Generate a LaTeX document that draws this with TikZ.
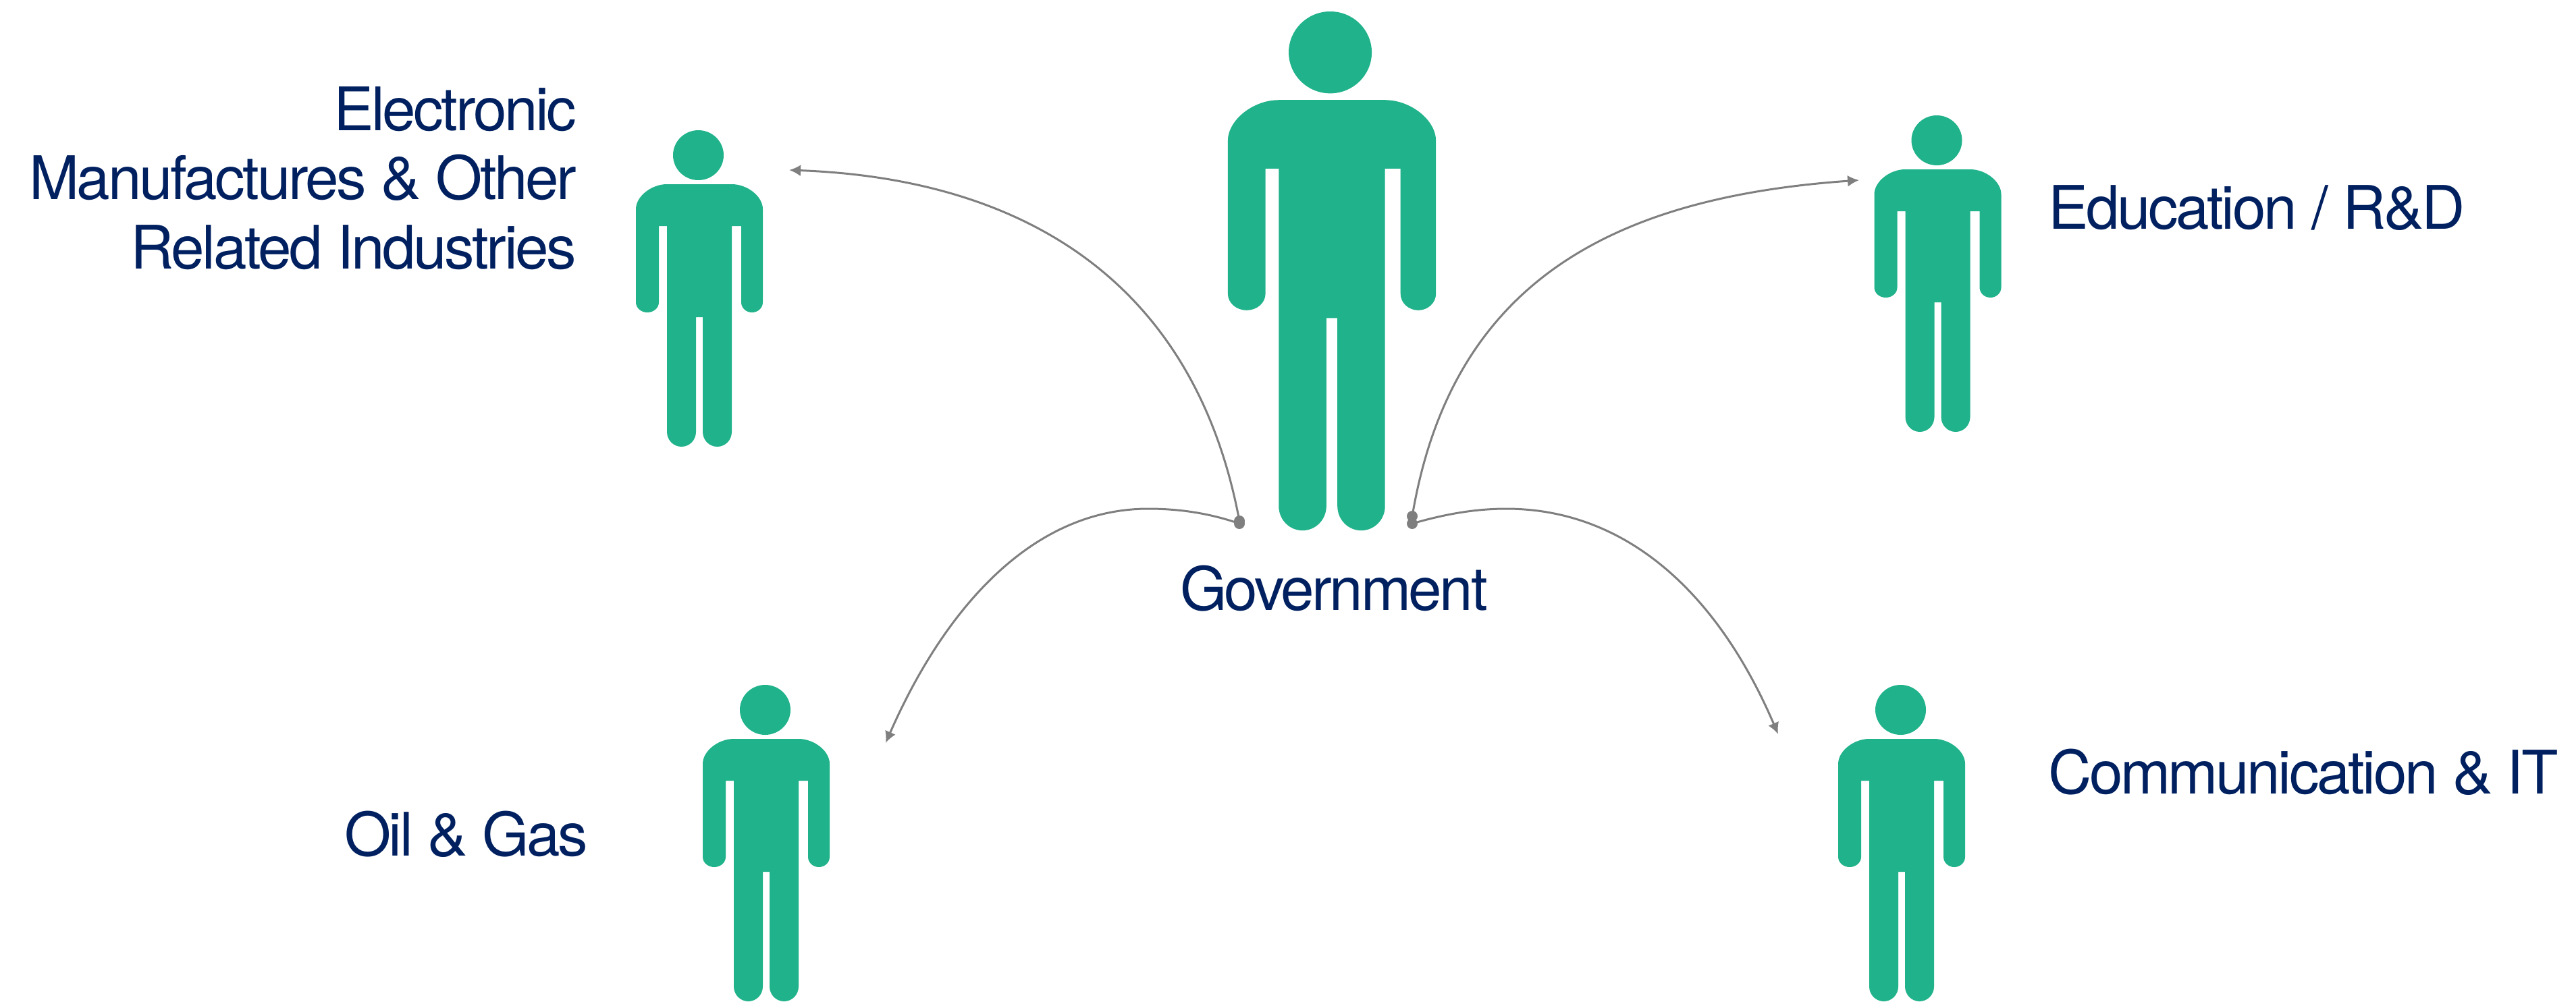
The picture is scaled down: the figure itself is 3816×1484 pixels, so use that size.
\documentclass[tikz,border=0pt]{standalone}
\usepackage{fontspec}
\setmainfont{TeX Gyre Heros}[LetterSpace=-3.8]
\usetikzlibrary{arrows.meta}
\definecolor{navy}{HTML}{002060}
\definecolor{figgreen}{HTML}{20B28A}
\definecolor{linkgrey}{HTML}{7F7F7F}
\tikzset{
  person/.pic={
    \fill[figgreen] (-1.5,37) ellipse [x radius=37.5,y radius=37];
    \fill[figgreen] (-48,80) -- (48,80) .. controls (71,80) and (94,98) .. (94,117)
      -- (94,255) .. controls (94,263.3) and (86.8,270) .. (78,270)
      .. controls (69.2,270) and (62,263.3) .. (62,255)
      -- (62,142) -- (48,142) -- (48,447)
      .. controls (48,459.2) and (38.4,469) .. (26.5,469)
      .. controls (14.6,469) and (5,459.2) .. (5,447)
      -- (5,277) -- (-5,277) -- (-5,447)
      .. controls (-5,459.2) and (-14.6,469) .. (-26.5,469)
      .. controls (-38.4,469) and (-48,459.2) .. (-48,447)
      -- (-48,142) -- (-60,142) -- (-60,255)
      .. controls (-60,263.3) and (-67.6,270) .. (-77,270)
      .. controls (-86.4,270) and (-94,263.3) .. (-94,255)
      -- (-94,117) .. controls (-94,98) and (-71,80) .. cycle;
  },
  lbl/.style={text=navy,font=\fontsize{89}{102.5}\selectfont,inner sep=0pt,outer sep=0pt},
  link/.style={draw=linkgrey,line width=3pt,-{Latex[length=17pt,width=17pt]}},
  anchordot/.style={circle,fill=linkgrey,inner sep=0pt,minimum size=16pt},
}
\begin{document}
\begin{tikzpicture}[x=1pt,y=-1pt]
\useasboundingbox (0,0) rectangle (3816,1484);
\pic at (1036,193) {person};
\pic at (2870.5,171) {person};
\pic at (1135,1015) {person};
\pic at (2817,1015) {person};
\pic[scale=1.64] at (1973,17) {person};

\node[lbl,anchor=base east] (elec) at (854,193) {Electronic};
\node[lbl,anchor=base east] (manu) at (854,295.5) {Manufactures \& Other};
\node[lbl,anchor=base east] (rela) at (854,398) {Related Industries};
\node[lbl,anchor=base west] (edu) at (3034,339) {Education / R\&D};
\node[lbl,anchor=base west] (comm) at (3034,1176) {Communication \& IT};
\node[lbl,anchor=base west] (oil) at (510,1268) {Oil \& Gas};
\node[lbl,anchor=base west] (gov) at (1748,904) {Government};

\node[anchordot] (la) at (1836,772) {};
\node[anchordot] (lb) at (1836,776) {};
\node[anchordot] (ra) at (2092,765) {};
\node[anchordot] (rb) at (2092,776) {};
\coordinate (tl) at (1169,252);
\coordinate (tr) at (2754,267);
\coordinate (bl) at (1312,1101);
\coordinate (br) at (2634,1088);

\draw[link] (la.center) .. controls (1770,420) and (1520,265) .. (tl);
\draw[link] (ra.center) .. controls (2150,420) and (2385,293) .. (tr);
\draw[link] (lb.center) .. controls (1790,760) and (1745,754) .. (1701,754)
  .. controls (1530,754) and (1400,900) .. (bl);
\draw[link] (rb.center) .. controls (2140,762) and (2185,754) .. (2231,754)
  .. controls (2410,754) and (2545,880) .. (br);
\end{tikzpicture}
\end{document}
